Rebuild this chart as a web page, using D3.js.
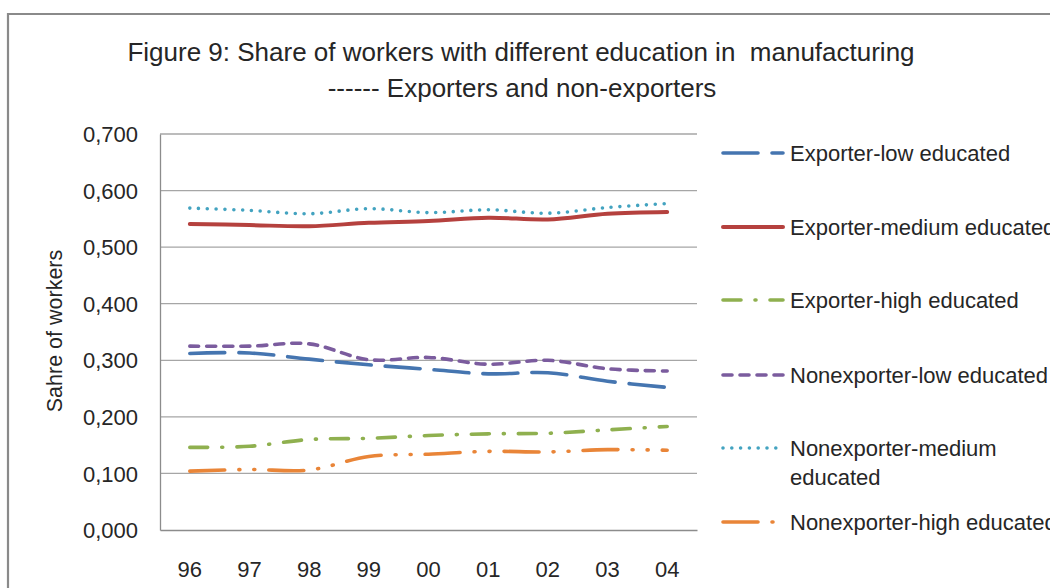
<!DOCTYPE html>
<html><head><meta charset="utf-8">
<script src="https://cdn.jsdelivr.net/npm/d3@7"></script>
<style>body{margin:0;background:#fff;}svg{display:block;}</style>
</head><body>
<script>
const years = ["96","97","98","99","00","01","02","03","04"];
const yTicks = [0,0.1,0.2,0.3,0.4,0.5,0.6,0.7];
const seriesNames = ["Exporter-low educated","Exporter-medium educated","Exporter-high educated","Nonexporter-low educated","Nonexporter-medium educated","Nonexporter-high educated"];
const exporterLow = [0.312,0.313,0.302,0.292,0.284,0.276,0.278,0.263,0.252];
const exporterMedium = [0.541,0.539,0.537,0.543,0.546,0.552,0.549,0.559,0.562];
const exporterHigh = [0.146,0.148,0.160,0.162,0.167,0.170,0.171,0.177,0.183];
const nonexporterLow = [0.325,0.325,0.329,0.301,0.305,0.293,0.300,0.285,0.281];
const nonexporterMedium = [0.569,0.565,0.559,0.568,0.561,0.566,0.560,0.570,0.577];
const nonexporterHigh = [0.104,0.107,0.106,0.130,0.134,0.139,0.138,0.142,0.141];
const seriesValues = [exporterLow,exporterMedium,exporterHigh,nonexporterLow,nonexporterMedium,nonexporterHigh];

const styles = [
  {color:"#4575b0", dash:"35,14", cap:"round", w:3.6},
  {color:"#b5413e", dash:null, cap:"round", w:4},
  {color:"#8fb04f", dash:"18,14,1,14", cap:"round", w:3.6},
  {color:"#7b5c9e", dash:"9,8", cap:"round", w:3.6},
  {color:"#43a3c0", dash:"0,8.8", cap:"round", w:3.6},
  {color:"#e98538", dash:"35,14,1,14,1,14", cap:"round", w:3.6}
];

const W=1050,H=588;
const svg=d3.select("body").append("svg").attr("width",W).attr("height",H);
const font="Liberation Sans, Arial, sans-serif";
const txt="#262626";

// outer border
svg.append("path").attr("d",`M8,${H+5} L8,14 L${W+5},14`).attr("fill","none").attr("stroke","#8a8a8a").attr("stroke-width",2.2);

const L=160,R=697,T=134,B=530;
const x=d3.scaleBand().domain(years).range([L,R]);
const y=d3.scaleLinear().domain([0,0.7]).range([B,T]);

// gridlines
svg.append("g").selectAll("line").data(yTicks.slice(1)).join("line")
  .attr("x1",L).attr("x2",R).attr("y1",d=>y(d)).attr("y2",d=>y(d))
  .attr("stroke","#a6a6a6").attr("stroke-width",1.3);

// y axis
const yAxis=d3.axisLeft(y).tickValues(yTicks).tickSize(0).tickPadding(22)
  .tickFormat(d=>d3.format(".3f")(d).replace(".",","));
const gy=svg.append("g").attr("transform",`translate(${L},0)`).call(yAxis);
gy.select(".domain").attr("stroke","#8c8c8c").attr("stroke-width",1.3);
gy.selectAll("text").attr("font-family",font).attr("font-size",22).attr("fill",txt).attr("dy","0.35em");

// x axis
const xAxis=d3.axisBottom(x).tickSize(0).tickPadding(31);
const gx=svg.append("g").attr("transform",`translate(0,${B})`).call(xAxis);
gx.select(".domain").attr("stroke","#8c8c8c").attr("stroke-width",1.3);
gx.selectAll("text").attr("font-family",font).attr("font-size",22).attr("fill",txt);

// y title
svg.append("text").attr("transform","translate(54,331) rotate(-90)").attr("text-anchor","middle")
  .attr("dy","0.35em").attr("font-family",font).attr("font-size",21.5).attr("fill",txt).text("Sahre of workers");

// title
svg.append("text").attr("x",521).attr("y",61).attr("text-anchor","middle").attr("font-family",font)
  .attr("font-size",26).attr("fill",txt).text("Figure 9: Share of workers with different education in\u00a0 manufacturing");
svg.append("text").attr("x",522).attr("y",97).attr("text-anchor","middle").attr("font-family",font)
  .attr("font-size",26).attr("fill",txt).text("------ Exporters and non-exporters");

// lines
const line=d3.line().x((d,i)=>x(years[i])+x.bandwidth()/2).y(d=>y(d)).curve(d3.curveCatmullRom.alpha(0.5));
const order=[4,1,3,0,2,5];
order.forEach(i=>{
  const s=styles[i];
  svg.append("path").datum(seriesValues[i]).attr("d",line).attr("fill","none")
    .attr("stroke",s.color).attr("stroke-width",s.w).attr("stroke-linecap",s.cap)
    .attr("stroke-linejoin","round").attr("stroke-dasharray",s.dash);
});

// legend
const legY=[153,227,300,375,448,522];
const lg=svg.append("g");
seriesNames.forEach((n,i)=>{
  const s=styles[i];
  lg.append("line").attr("x1",723).attr("x2",783).attr("y1",legY[i]).attr("y2",legY[i])
    .attr("stroke",s.color).attr("stroke-width",s.w).attr("stroke-linecap",s.cap).attr("stroke-dasharray",s.dash);
  const t=lg.append("text").attr("x",790).attr("font-family",font).attr("font-size",22).attr("fill",txt);
  if(i===4){
    t.append("tspan").attr("x",790).attr("y",legY[i]+8).text("Nonexporter-medium");
    t.append("tspan").attr("x",790).attr("y",legY[i]+37).text("educated");
  } else {
    t.attr("y",legY[i]+8).text(n);
  }
});
</script>
</body></html>
